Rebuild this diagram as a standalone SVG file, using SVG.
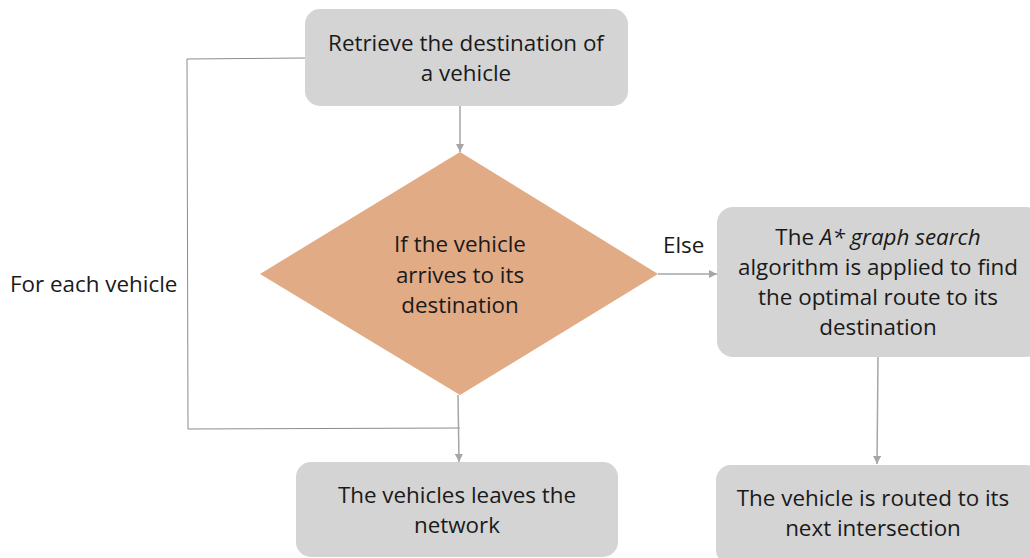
<svg xmlns="http://www.w3.org/2000/svg" width="1030" height="558" viewBox="0 0 1030 558">
<style>
.box{fill:#d4d4d4;}
.dia{fill:#e1ab86;}
.t{font-family:"Open Sans","Liberation Sans",sans-serif;font-size:22.4px;fill:#1a1a1a;text-anchor:middle;}
.lbl{font-family:"Open Sans","Liberation Sans",sans-serif;font-size:22.4px;fill:#1a1a1a;}
.c{fill:none;stroke:#a6a6a6;stroke-width:1.5;}
.loop{fill:none;stroke:#8c8c8c;stroke-width:1;}
</style>
<defs>
<marker id="ah" viewBox="0 0 10 10" refX="10" refY="5" markerWidth="5.5" markerHeight="5.5" orient="auto" markerUnits="strokeWidth">
<path d="M0,0 L10,5 L0,10 z" fill="#a6a6a6"/>
</marker>
</defs>
<rect width="1030" height="558" fill="#ffffff"/>
<g id="connectors">
<path class="loop" d="M305,58 L187,59 L188,429 L460,428"/>
<path class="c" d="M460,106 L460,152" marker-end="url(#ah)"/>
<path class="c" d="M458,395 L459,462" marker-end="url(#ah)"/>
<path class="c" d="M658,274 L717,274" marker-end="url(#ah)"/>
<path class="c" d="M878,357 L877,464" marker-end="url(#ah)"/>
<text class="lbl" x="663" y="253">Else</text>
<text class="lbl" x="10" y="292">For each vehicle</text>
</g>
<g id="n1">
<rect class="box" x="305" y="9" width="323" height="97" rx="15"/>
<text class="t" x="466" y="51">Retrieve the destination of</text>
<text class="t" x="466" y="81">a vehicle</text>
</g>
<g id="n2">
<polygon class="dia" points="460,152 658,274 460,395 260,274"/>
<text class="t" x="460" y="252">If the vehicle</text>
<text class="t" x="460" y="283">arrives to its</text>
<text class="t" x="460" y="313">destination</text>
</g>
<g id="n3">
<rect class="box" x="717" y="207" width="325" height="150" rx="16"/>
<text class="t" x="878" y="245">The <tspan font-style="italic">A* graph search</tspan></text>
<text class="t" x="878" y="275">algorithm is applied to find</text>
<text class="t" x="878" y="305">the optimal route to its</text>
<text class="t" x="878" y="335">destination</text>
</g>
<g id="n4">
<rect class="box" x="296" y="462" width="322" height="95" rx="15"/>
<text class="t" x="457" y="503">The vehicles leaves the</text>
<text class="t" x="457" y="533">network</text>
</g>
<g id="n5">
<rect class="box" x="716" y="465" width="325" height="100" rx="15"/>
<text class="t" x="873" y="506">The vehicle is routed to its</text>
<text class="t" x="873" y="536">next intersection</text>
</g>
</svg>
